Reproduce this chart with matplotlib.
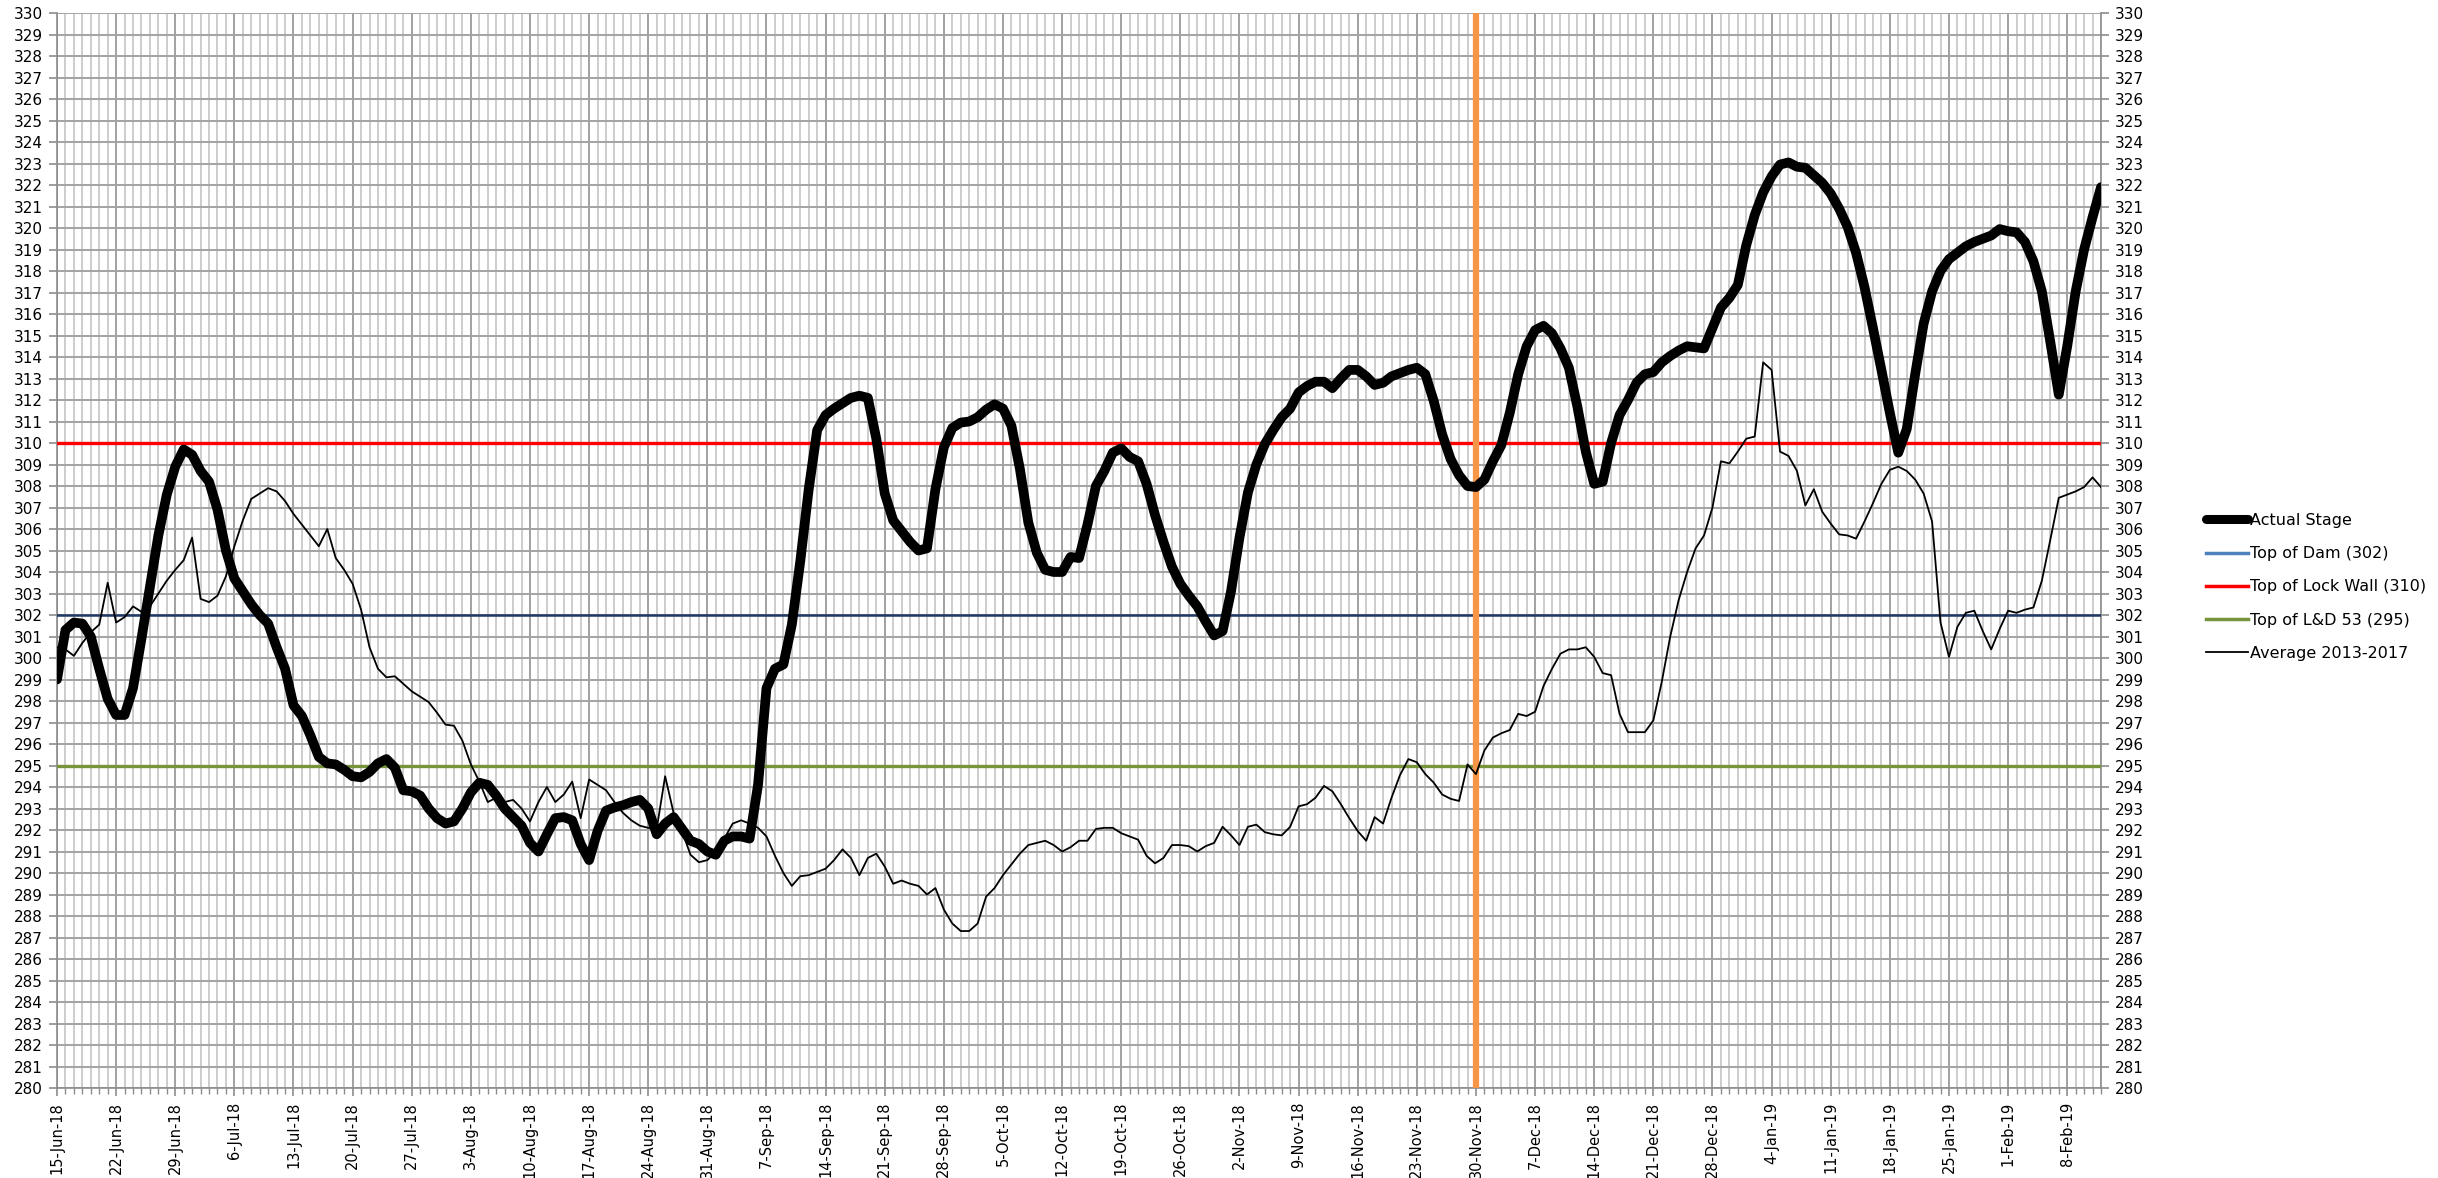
import matplotlib
matplotlib.use("Agg")
import matplotlib.pyplot as plt
from matplotlib.lines import Line2D
import matplotlib.dates as mdates
from matplotlib.ticker import FuncFormatter, MultipleLocator
import pandas as pd
import numpy as np

# ---------------- data ----------------
start_date = "2018-06-15"
event_date = "2018-11-30"

actual_stage = [
    299.0, 301.3, 301.65, 301.6, 301.0, 299.5, 298.1, 297.35, 297.35, 298.6,
    300.9, 303.3, 305.7, 307.6, 308.9, 309.7, 309.45, 308.7, 308.2, 306.9,
    305.0, 303.7, 303.1, 302.5, 302.0, 301.6, 300.5, 299.5, 297.8, 297.3,
    296.4, 295.4, 295.1, 295.05, 294.8, 294.5, 294.45, 294.7, 295.1, 295.3,
    294.9, 293.85, 293.8, 293.6, 293.0, 292.55, 292.3, 292.4, 293.0, 293.75,
    294.2, 294.1, 293.6, 293.0, 292.6, 292.2, 291.4, 291.0, 291.8, 292.55,
    292.6, 292.45, 291.35, 290.6, 291.95, 292.9, 293.05, 293.15, 293.3, 293.4,
    293.0, 291.8, 292.3, 292.6, 292.05, 291.5, 291.35, 291.0, 290.85, 291.5,
    291.7, 291.7, 291.6, 294.1, 298.6, 299.5, 299.7, 301.55, 304.5, 307.85,
    310.6, 311.3, 311.6, 311.85, 312.1, 312.2, 312.1, 310.2, 307.65, 306.4,
    305.9, 305.4, 305.0, 305.1, 307.85, 309.8, 310.7, 310.95, 311.0, 311.2,
    311.55, 311.8, 311.6, 310.8, 308.8, 306.3, 304.9, 304.1, 304.0, 304.0,
    304.7, 304.65, 306.2, 308.0, 308.7, 309.55, 309.75, 309.35, 309.15, 308.1,
    306.65, 305.4, 304.25, 303.45, 302.9, 302.4, 301.7, 301.05, 301.25, 303.1,
    305.6, 307.7, 309.0, 309.95, 310.6, 311.2, 311.6, 312.35, 312.65, 312.85,
    312.85, 312.55, 313.0, 313.4, 313.4, 313.1, 312.7, 312.8, 313.1, 313.25,
    313.4, 313.5, 313.2, 311.95, 310.4, 309.25, 308.5, 308.0, 307.95, 308.3,
    309.15, 309.9, 311.4, 313.2, 314.5, 315.25, 315.45, 315.1, 314.4, 313.5,
    311.7, 309.6, 308.1, 308.2, 310.0, 311.3, 312.0, 312.8, 313.2, 313.3,
    313.75, 314.05, 314.3, 314.5, 314.45, 314.4, 315.35, 316.3, 316.75, 317.35,
    319.2, 320.6, 321.65, 322.4, 322.95, 323.05, 322.85, 322.8, 322.45, 322.1,
    321.6, 320.9, 320.05, 318.85, 317.25, 315.35, 313.4, 311.4, 309.55, 310.65,
    313.2, 315.55, 317.05, 318.0, 318.55, 318.85, 319.15, 319.35, 319.5, 319.65,
    319.95, 319.85, 319.8, 319.35, 318.45, 317.05, 314.7, 312.25, 314.5, 317.05,
    319.0, 320.5, 321.9,
]

average_2013_2017 = [
    300.5, 300.4, 300.1, 300.7, 301.2, 301.55, 303.5, 301.65, 301.9, 302.4,
    302.15, 302.4, 303.0, 303.6, 304.1, 304.55, 305.6, 302.75, 302.6, 302.9,
    303.8, 305.2, 306.4, 307.4, 307.65, 307.9, 307.75, 307.3, 306.7, 306.2,
    305.7, 305.2, 306.0, 304.65, 304.1, 303.45, 302.25, 300.5, 299.5, 299.1,
    299.15, 298.8, 298.45, 298.2, 297.95, 297.45, 296.9, 296.85, 296.15, 295.05,
    294.25, 293.3, 293.5, 293.3, 293.4, 293.0, 292.4, 293.3, 294.0, 293.3,
    293.65, 294.25, 292.55, 294.35, 294.1, 293.85, 293.3, 292.8, 292.45, 292.2,
    292.1, 292.05, 294.5, 292.8, 291.95, 290.85, 290.5, 290.6, 291.0, 291.6,
    292.3, 292.45, 292.3, 292.1, 291.7, 290.8, 290.0, 289.4, 289.85, 289.9,
    290.05, 290.2, 290.6, 291.1, 290.7, 289.9, 290.7, 290.9, 290.3, 289.5,
    289.65, 289.5, 289.4, 289.0, 289.3, 288.3, 287.65, 287.3, 287.3, 287.65,
    288.9, 289.3, 289.9, 290.4, 290.9, 291.3, 291.4, 291.5, 291.3, 291.0,
    291.2, 291.5, 291.5, 292.05, 292.1, 292.1, 291.85, 291.7, 291.55, 290.8,
    290.45, 290.7, 291.3, 291.3, 291.25, 291.0, 291.25, 291.4, 292.15, 291.75,
    291.3, 292.15, 292.25, 291.9, 291.8, 291.75, 292.15, 293.1, 293.2, 293.5,
    294.05, 293.8, 293.2, 292.55, 291.95, 291.5, 292.6, 292.3, 293.5, 294.55,
    295.3, 295.15, 294.6, 294.2, 293.65, 293.45, 293.35, 295.05, 294.6, 295.7,
    296.3, 296.5, 296.65, 297.4, 297.3, 297.5, 298.7, 299.5, 300.2, 300.4,
    300.4, 300.5, 300.05, 299.3, 299.2, 297.4, 296.55, 296.55, 296.55, 297.1,
    298.9, 301.0, 302.7, 304.0, 305.1, 305.7, 307.0, 309.15, 309.05, 309.6,
    310.2, 310.3, 313.75, 313.4, 309.6, 309.4, 308.7, 307.1, 307.85, 306.8,
    306.25, 305.75, 305.7, 305.55, 306.35, 307.2, 308.1, 308.75, 308.9, 308.7,
    308.3, 307.65, 306.35, 301.65, 300.05, 301.45, 302.1, 302.2, 301.25, 300.4,
    301.35, 302.2, 302.1, 302.25, 302.35, 303.6, 305.5, 307.45, 307.6, 307.75,
    307.95, 308.4, 307.95,
]

top_of_dam = 302
top_of_lock_wall = 310
top_of_ld53 = 295

series_labels = ["Actual Stage", "Top of Dam (302)", "Top of Lock Wall (310)",
                 "Top of L&D 53 (295)", "Average 2013-2017"]

y_min, y_max = 280, 330

# ---------------- figure ----------------
plt.rcParams['font.family'] = ['DejaVu Sans']

W, H = 2438, 1178
fig = plt.figure(figsize=(W / 100, H / 100), dpi=100)
ax = fig.add_axes([57 / W, 1 - 1088 / H, (2101 - 57) / W, (1088 - 13) / H])

dates = pd.date_range(start_date, periods=len(actual_stage), freq="D")
xnum = mdates.date2num(dates)

# grid
ax.set_axisbelow(True)
ax.set_xlim(xnum[0], xnum[-1])
ax.set_ylim(y_min, y_max)

major_x = xnum[::7]
minor_x = xnum
ax.set_xticks(major_x)
ax.set_xticks(minor_x, minor=True)
ax.yaxis.set_major_locator(MultipleLocator(1))

ax.grid(which='minor', axis='x', color='#C9C9C9', linewidth=1.3)
ax.grid(which='major', axis='x', color='#9A9A9A', linewidth=1.3)
ax.grid(which='major', axis='y', color='#A3A3A3', linewidth=1.4)

def fmt_date(x, pos=None):
    d = mdates.num2date(x)
    return f"{d.day}-{d.strftime('%b-%y')}"

ax.xaxis.set_major_formatter(FuncFormatter(fmt_date))
ax.tick_params(axis='x', which='major', length=6, width=1.2, color='#8C8C8C',
               labelsize=10.5, labelrotation=90, pad=4)
ax.tick_params(axis='x', which='minor', length=4, width=1.0, color='#8C8C8C')
ax.tick_params(axis='y', which='major', length=6, width=1.2, color='#8C8C8C',
               labelsize=11, left=True, right=True, labelleft=True, labelright=True, pad=4)

for s in ['left', 'right', 'bottom']:
    ax.spines[s].set_color('#8C8C8C')
    ax.spines[s].set_linewidth(1.2)
ax.spines['top'].set_visible(False)

# reference lines
ax.plot(xnum, [top_of_lock_wall] * len(xnum), color='#FF0000', linewidth=2.4, zorder=3)
ax.plot(xnum, [top_of_dam] * len(xnum), color='#1F3864', linewidth=1.8, zorder=3)
ax.plot(xnum, [top_of_ld53] * len(xnum), color='#77933C', linewidth=2.4, zorder=3)

# event line
ev = mdates.date2num(pd.Timestamp(event_date))
ax.axvline(ev, color='#F79646', linewidth=4.5, zorder=3.5)

# data
ax.plot(xnum, average_2013_2017, color='black', linewidth=1.3, zorder=4)
ax.plot(xnum, actual_stage, color='black', linewidth=7, zorder=5,
        solid_joinstyle='round', solid_capstyle='round')

# legend
handles = [
    Line2D([], [], color='black', linewidth=6.5, solid_capstyle='round'),
    Line2D([], [], color='#4F81BD', linewidth=2.5),
    Line2D([], [], color='#FF0000', linewidth=2.5),
    Line2D([], [], color='#77933C', linewidth=2.5),
    Line2D([], [], color='black', linewidth=1.3),
]
fig.legend(handles, series_labels, loc='upper left',
           bbox_to_anchor=(2206 / W, 1 - 513 / H), frameon=False,
           fontsize=11.5, handlelength=2.6, handletextpad=0.15, labelspacing=1.14,
           borderaxespad=0, borderpad=0)

fig.savefig("out.png", dpi=100)
